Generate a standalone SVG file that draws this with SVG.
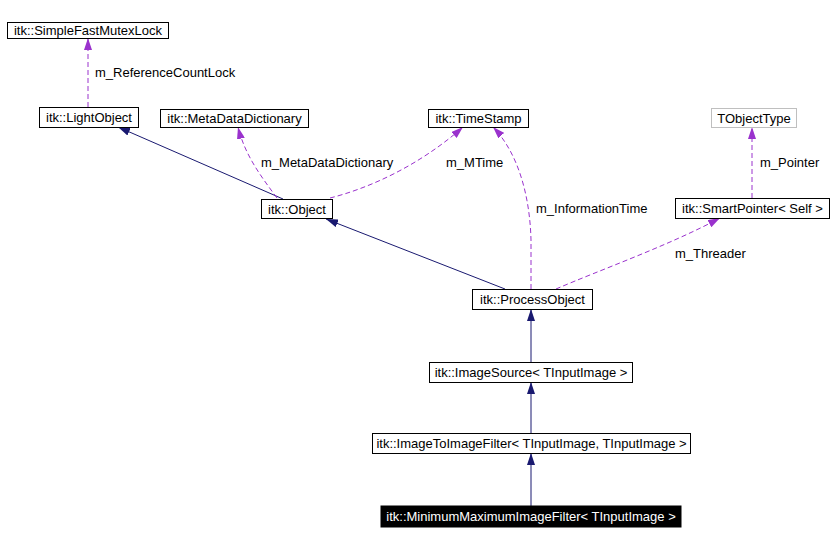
<svg xmlns="http://www.w3.org/2000/svg" width="834" height="542" viewBox="0 0 834 542">
<style>
text{font-family:"Liberation Sans",Arial,sans-serif;font-size:13px;fill:#000}
.n rect{fill:#fff;stroke:#000;stroke-width:1}
.n text{text-anchor:middle}
.g rect{stroke:#bfbfbf}
.dark rect{fill:#000}
.dark text{fill:#fff}
.inh{fill:none;stroke:#191970;stroke-width:1;marker-end:url(#an)}
.use{fill:none;stroke:#9a32cd;stroke-width:1;stroke-dasharray:5,3;marker-end:url(#ap)}
</style>
<defs>
<marker id="an" viewBox="0 0 12 8" refX="12" refY="4" markerWidth="12" markerHeight="8" markerUnits="userSpaceOnUse" orient="auto"><path d="M0,0L12,4L0,8z" fill="#191970"/></marker>
<marker id="ap" viewBox="0 0 12 8" refX="12" refY="4" markerWidth="12" markerHeight="8" markerUnits="userSpaceOnUse" orient="auto"><path d="M0,0L12,4L0,8z" fill="#9a32cd"/></marker>
</defs>
<rect width="834" height="542" fill="#fff"/>
<g id="connectors">
<path class="use" d="M88,107L88,38"/>
<path class="inh" d="M283,199L118,127"/>
<path class="use" d="M277,198C260,175 245,155 238,127"/>
<path class="use" d="M330,198C370,188 420,165 463,127"/>
<path class="use" d="M531,289L531,240C530,200 520,155 493,127"/>
<path class="use" d="M556,289C600,270 670,245 720,218"/>
<path class="use" d="M752,198L752,127"/>
<path class="inh" d="M505,289L326,219"/>
<path class="inh" d="M531,362L531,309"/>
<path class="inh" d="M531,433L531,382"/>
<path class="inh" d="M531,506L531,453"/>
<text x="95" y="77">m_ReferenceCountLock</text>
<text x="261" y="167">m_MetaDataDictionary</text>
<text x="446" y="167">m_MTime</text>
<text x="536" y="213">m_InformationTime</text>
<text x="760" y="167">m_Pointer</text>
<text x="675" y="258">m_Threader</text>
</g>
<g id="SimpleFastMutexLock" class="n"><rect x="7.5" y="22.5" width="161" height="16"/><text x="88" y="35">itk::SimpleFastMutexLock</text></g>
<g id="LightObject" class="n"><rect x="39.5" y="107.5" width="99" height="20"/><text x="89" y="122">itk::LightObject</text></g>
<g id="MetaDataDictionary" class="n"><rect x="160.5" y="109.5" width="148" height="18"/><text x="234.5" y="123">itk::MetaDataDictionary</text></g>
<g id="TimeStamp" class="n"><rect x="428.5" y="109.5" width="100" height="18"/><text x="478.5" y="123">itk::TimeStamp</text></g>
<g id="TObjectType" class="n g"><rect x="711.5" y="108.5" width="85" height="19"/><text x="754" y="123">TObjectType</text></g>
<g id="Object" class="n"><rect x="261.5" y="199.5" width="71" height="19"/><text x="297" y="214">itk::Object</text></g>
<g id="SmartPointer" class="n"><rect x="675.5" y="198.5" width="154" height="20"/><text x="752.5" y="213">itk::SmartPointer&lt; Self &gt;</text></g>
<g id="ProcessObject" class="n"><rect x="472.5" y="289.5" width="120" height="20"/><text x="532.5" y="304">itk::ProcessObject</text></g>
<g id="ImageSource" class="n"><rect x="429.5" y="362.5" width="203" height="20"/><text x="531" y="377">itk::ImageSource&lt; TInputImage &gt;</text></g>
<g id="ImageToImageFilter" class="n"><rect x="372.5" y="433.5" width="318" height="20"/><text x="531.5" y="448">itk::ImageToImageFilter&lt; TInputImage, TInputImage &gt;</text></g>
<g id="MinimumMaximumImageFilter" class="n dark"><rect x="381" y="506" width="300" height="21"/><text x="531" y="521">itk::MinimumMaximumImageFilter&lt; TInputImage &gt;</text></g>
</svg>
